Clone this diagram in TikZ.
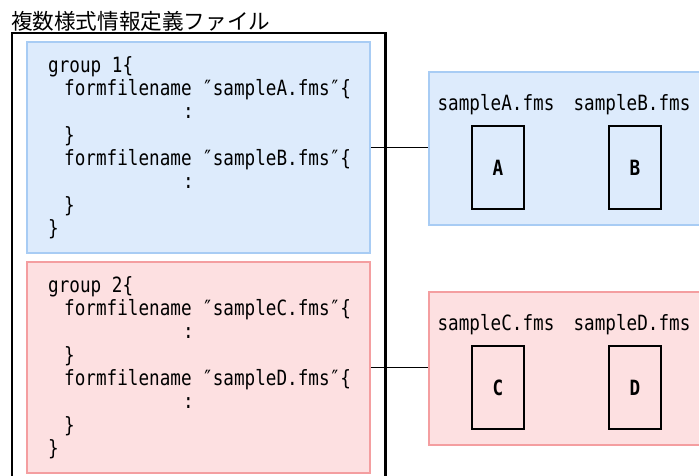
\documentclass[tikz,border=0pt]{standalone}
\usepackage{fontspec}
\newfontfamily\codefont[FakeStretch=0.84]{DejaVu Sans Mono}
\newfontfamily\jpfont{Noto Sans CJK JP}
\definecolor{bluefill}{RGB}{221,235,252}
\definecolor{blueline}{RGB}{168,204,244}
\definecolor{redfill}{RGB}{253,224,225}
\definecolor{redline}{RGB}{244,158,160}
\begin{document}
\begin{tikzpicture}[x=1pt,y=-1pt,
  codeline/.style={anchor=base west,inner sep=0pt,font=\codefont\fontsize{21}{21}\selectfont},
  fname/.style={anchor=base,inner sep=0pt,font=\codefont\fontsize{21}{21}\selectfont},
  bluebox/.style={draw=blueline,fill=bluefill,line width=1.5pt,inner sep=0pt},
  redbox/.style={draw=redline,fill=redfill,line width=1.5pt,inner sep=0pt},
  form/.style={draw=black,line width=1.5pt,inner sep=0pt,minimum width=52pt,minimum height=83pt,font=\codefont\bfseries\fontsize{21}{21}\selectfont},
  conn/.style={draw=black,line width=1.6pt}]
\useasboundingbox (0,0) rectangle (699,475);
\clip (0,0) rectangle (699,475);
% title
\node[anchor=base west,inner sep=0pt,font=\jpfont\fontsize{21.6}{21.6}\selectfont] (title) at (11,29) {複数様式情報定義ファイル};
% outer file box
\node[draw=black,line width=1.5pt,inner sep=0pt,minimum width=373pt,minimum height=460pt] (outer) at (198.5,263) {};
% group boxes
\node[bluebox,minimum width=343pt,minimum height=211pt] (grp1) at (198.5,147.5) {};
\node[redbox,minimum width=343pt,minimum height=211pt] (grp2) at (198.5,367.5) {};
% group 1 code
\node[codeline] (a1) at (48,72) {group 1\{};
\node[codeline] (a2) at (64,95.3) {formfilename ″sampleA.fms″\{};
\node[codeline] (a3) at (183,118.7) {:};
\node[codeline] (a4) at (64,142) {\}};
\node[codeline] (a5) at (64,165.3) {formfilename ″sampleB.fms″\{};
\node[codeline] (a6) at (183,188.7) {:};
\node[codeline] (a7) at (64,212) {\}};
\node[codeline] (a8) at (48,235.3) {\}};
% group 2 code
\node[codeline] (b1) at (48,292) {group 2\{};
\node[codeline] (b2) at (64,315.3) {formfilename ″sampleC.fms″\{};
\node[codeline] (b3) at (183,338.7) {:};
\node[codeline] (b4) at (64,362) {\}};
\node[codeline] (b5) at (64,385.3) {formfilename ″sampleD.fms″\{};
\node[codeline] (b6) at (183,408.7) {:};
\node[codeline] (b7) at (64,432) {\}};
\node[codeline] (b8) at (48,455.3) {\}};
% right file groups
\node[bluebox,minimum width=283pt,minimum height=153pt] (files1) at (570.5,148.5) {};
\node[redbox,minimum width=283pt,minimum height=153pt] (files2) at (570.5,368.5) {};
\node[fname] (lblA) at (496,110) {sampleA.fms};
\node[fname] (lblB) at (632,110) {sampleB.fms};
\node[fname] (lblC) at (496,330) {sampleC.fms};
\node[fname] (lblD) at (632,330) {sampleD.fms};
\node[form] (fA) at (498,167.5) {A};
\node[form] (fB) at (635,167.5) {B};
\node[form] (fC) at (498,387.5) {C};
\node[form] (fD) at (635,387.5) {D};
% connectors
\draw[conn] (grp1.east) -- (grp1.east -| files1.west);
\draw[conn] (grp2.east) -- (grp2.east -| files2.west);
\draw[draw=black,line width=1.5pt] (outer.north east) -- (outer.south east);
\end{tikzpicture}
\end{document}
